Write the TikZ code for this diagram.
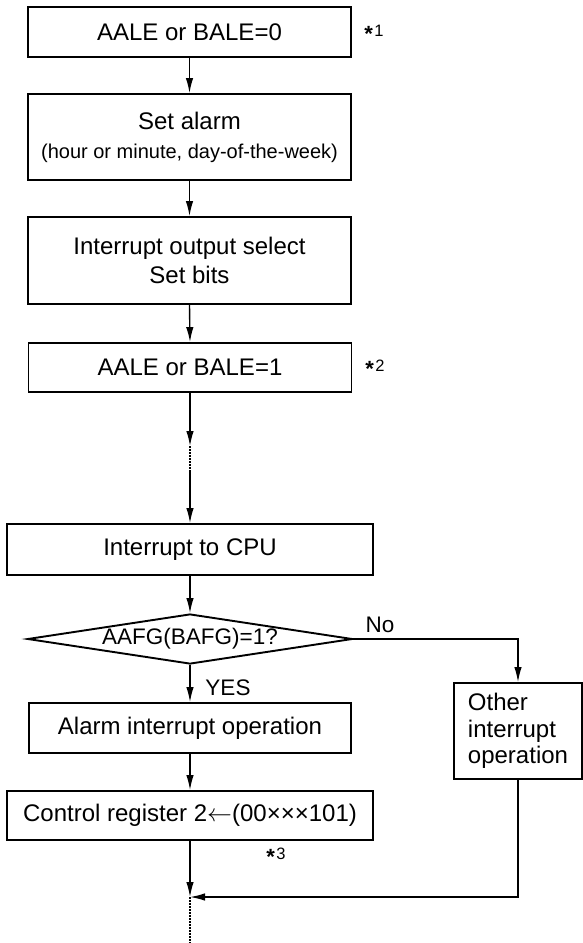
\documentclass[tikz,border=0pt]{standalone}
\usepackage{amsmath}
\usepackage{fontspec}
\setmainfont{Liberation Sans}
\usetikzlibrary{arrows.meta,shapes.geometric}
\newcommand\starmark{\raisebox{-4.5pt}{\fontsize{22}{22}\selectfont\bfseries *}\hspace{1.5pt}}
\begin{document}
\begin{tikzpicture}[x=1pt,y=-1pt,
  box/.style={draw,line width=1.9pt,minimum width=323pt,minimum height=50pt,inner sep=0pt,align=center,font=\fontsize{24}{29}\selectfont},
  decide/.style={diamond,draw,line width=1.9pt,minimum width=325pt,minimum height=50pt,inner sep=0pt,shape aspect=6.5,font=\fontsize{22.5}{27}\selectfont},
  flow/.style={line width=1.4pt,-{Latex[length=15pt,width=7.5pt]}},
  dotline/.style={line width=1.3pt,dash pattern=on 1.5pt off 1.5pt},
  lab/.style={inner sep=0pt,font=\fontsize{22.5}{27}\selectfont},
  note/.style={inner sep=0pt,font=\fontsize{16.5}{20}\selectfont}
]
\useasboundingbox (0,0) rectangle (583,943);

\node[box] (b1) at (189.5,32) {AALE or BALE=0};
\node[box,minimum height=86pt] (b2) at (189.5,137) {Set alarm\\{\fontsize{20}{24}\selectfont(hour or minute, day-of-the-week)}};
\node[box,minimum height=87pt] (b3) at (189.5,260.5) {Interrupt output select\\Set bits};
\node[box,minimum height=49pt] (b4) at (190,367.5) {AALE or BALE=1};
\node[box,minimum width=366pt,minimum height=51pt] (b5) at (190,549.5) {Interrupt to CPU};
\node[decide] (dia) at (190,639) {AAFG(BAFG)=1?};
\node[box,minimum width=322pt] (al) at (190,728) {Alarm interrupt operation};
\node[box,minimum width=366pt,minimum height=49pt] (ctrl) at (190,815.5) {Control register 2$\leftarrow$(00×××101)};
\node[box,minimum width=128pt,minimum height=96pt,align=left,font=\fontsize{24}{26.5}\selectfont] (oth) at (518,731) {Other\\interrupt\\operation};

\node[note] (s1) at (374,33.5) {\starmark1};
\node[note] (s2) at (375,368) {\starmark2};
\node[note] (s3) at (276,856) {\starmark3};
\node[lab] (no) at (380,625) {No};
\node[lab] (yes) at (228,688) {YES};

\coordinate (d1) at (190,446);
\coordinate (d2) at (190,470);
\coordinate (j) at (190,897);
\coordinate (e) at (190,943);

\draw[flow] (b1.south) -- (b2.north);
\draw[flow] (b2.south) -- (b3.north);
\draw[flow] (b3.south) -- (b4.north);
\draw[flow] (b4.south) -- (d1);
\draw[dotline] (d1) -- (d2);
\draw[flow] (d2) -- (b5.north);
\draw[flow] (b5.south) -- (dia.north);
\draw[flow] (dia.south) -- (al.north);
\draw[flow] (al.south) -- (ctrl.north);
\draw[flow] (dia.east) -| (oth.north);
\draw[flow] (ctrl.south) -- (j);
\draw[flow] (oth.south) |- (j);
\draw[dotline] (j) -- (e);
\end{tikzpicture}
\end{document}
